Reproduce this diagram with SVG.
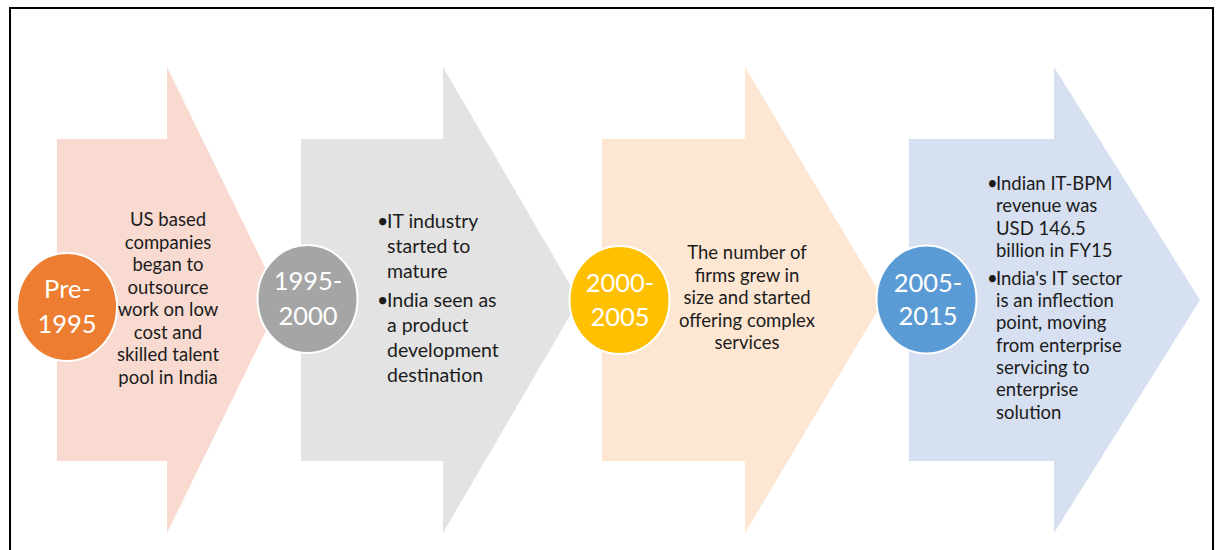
<svg xmlns="http://www.w3.org/2000/svg" width="1222" height="550" viewBox="0 0 1222 550">
  <style>
    .t{font-family:Lato,"Open Sans","Liberation Sans",sans-serif;fill:#1c1c1c;font-size:18.5px}
    .t2{font-size:19.5px}
    .c{text-anchor:middle}
    .yr{font-family:Lato,"Open Sans","Liberation Sans",sans-serif;fill:#ffffff;font-size:25.5px;text-anchor:middle}
    .circ{stroke:#ffffff;stroke-width:2}
  </style>
  <rect width="1222" height="550" fill="#ffffff"/>
  <rect x="10" y="8" width="1203" height="560" fill="none" stroke="#000000" stroke-width="2"/>

  <g id="arrow-pre1995">
    <polygon points="57,139 167,139 167,67 281,300 167,533 167,461 57,461" fill="#F8DAD0"/>
    <text class="t c" x="168"><tspan x="168" y="226">US based</tspan><tspan x="168" y="248.5">companies</tspan><tspan x="168" y="271">began to</tspan><tspan x="168" y="293.5">outsource</tspan><tspan x="168" y="316">work on low</tspan><tspan x="168" y="338.5">cost and</tspan><tspan x="168" y="361">skilled talent</tspan><tspan x="168" y="383.5">pool in India</tspan></text>
  </g>

  <g id="arrow-1995-2000">
    <polygon points="301,139 443,139 443,67 579,300 443,533 443,461 301,461" fill="#E3E3E3"/>
    <text class="t t2"><tspan x="377" y="228">•</tspan><tspan x="387" y="228">IT industry</tspan><tspan x="387" y="253">started to</tspan><tspan x="387" y="278">mature</tspan><tspan x="377" y="307">•</tspan><tspan x="387" y="307">India seen as</tspan><tspan x="387" y="332">a product</tspan><tspan x="387" y="357">development</tspan><tspan x="387" y="382">destination</tspan></text>
  </g>

  <g id="arrow-2000-2005">
    <polygon points="602,139 745,139 745,67 884,300 745,533 745,461 602,461" fill="#FDE7D2"/>
    <text class="t c"><tspan x="747" y="259">The number of</tspan><tspan x="747" y="281.5">firms grew in</tspan><tspan x="747" y="304">size and started</tspan><tspan x="747" y="326.5">offering complex</tspan><tspan x="747" y="349">services</tspan></text>
  </g>

  <g id="arrow-2005-2015">
    <polygon points="909,139 1054,139 1054,67 1200,300 1054,533 1054,461 909,461" fill="#D6E0F0"/>
    <text class="t"><tspan x="987" y="190">•</tspan><tspan x="996" y="190">Indian IT-BPM</tspan><tspan x="996" y="212">revenue was</tspan><tspan x="996" y="235">USD 146.5</tspan><tspan x="996" y="257">billion in FY15</tspan><tspan x="987" y="285">•</tspan><tspan x="996" y="285">India's IT sector</tspan><tspan x="996" y="307">is an inflection</tspan><tspan x="996" y="329">point, moving</tspan><tspan x="996" y="352">from enterprise</tspan><tspan x="996" y="374">servicing to</tspan><tspan x="996" y="396">enterprise</tspan><tspan x="996" y="419">solution</tspan></text>
  </g>

  <g id="circle-pre1995">
    <ellipse class="circ" cx="67" cy="307" rx="50" ry="54" fill="#ED7D31"/>
    <text class="yr"><tspan x="67.5" y="298">Pre-</tspan><tspan x="67" y="333">1995</tspan></text>
  </g>
  <g id="circle-1995-2000">
    <ellipse class="circ" cx="307.5" cy="299" rx="50" ry="54" fill="#A5A5A5"/>
    <text class="yr"><tspan x="308" y="290">1995-</tspan><tspan x="308" y="325">2000</tspan></text>
  </g>
  <g id="circle-2000-2005">
    <ellipse class="circ" cx="619.5" cy="300" rx="50" ry="54" fill="#FFC000"/>
    <text class="yr"><tspan x="620" y="292">2000-</tspan><tspan x="620" y="326">2005</tspan></text>
  </g>
  <g id="circle-2005-2015">
    <ellipse class="circ" cx="926.5" cy="299.5" rx="50" ry="54" fill="#5B9BD5"/>
    <text class="yr"><tspan x="928" y="292">2005-</tspan><tspan x="928" y="325">2015</tspan></text>
  </g>

  <g id="connectors"></g>
</svg>
